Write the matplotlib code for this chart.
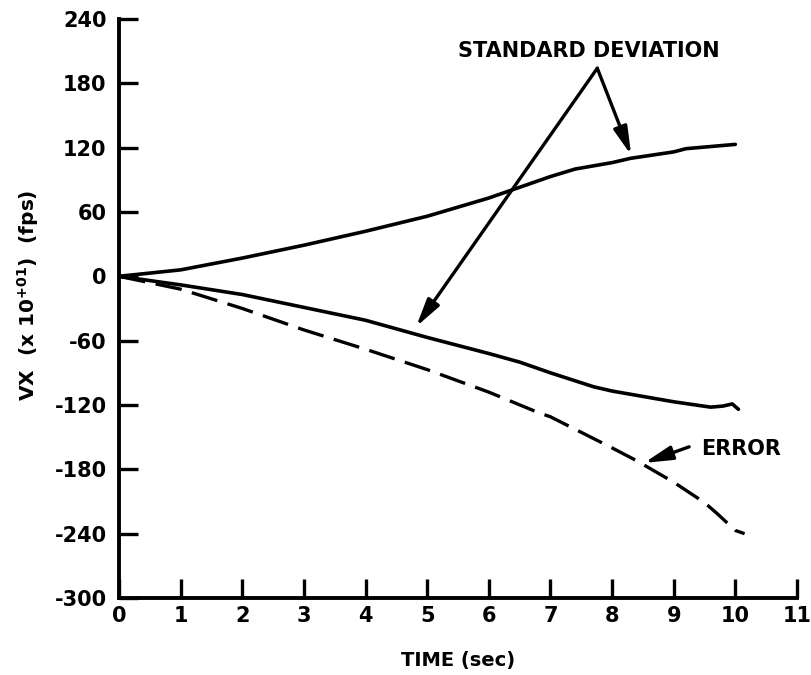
import matplotlib
matplotlib.use("Agg")
import matplotlib.pyplot as plt

plt.rcParams["font.family"] = ["DejaVu Sans"]
plt.rcParams["font.weight"] = "bold"
plt.rcParams["axes.unicode_minus"] = False

# values (VX x 10^+01 fps vs time in sec)
t_std_up = [0, 1, 2, 3, 4, 5, 6, 6.4, 7, 7.4, 8, 8.3, 9, 9.2, 9.6, 10.0]
std_up = [0, 6, 17, 29, 42, 56, 73, 81, 93, 100, 106, 110, 116, 119, 121, 123]

t_std_lo = [0, 1, 2, 3, 4, 5, 6, 6.5, 7, 7.7, 8, 8.7, 9, 9.6, 9.8, 9.95, 10.05]
std_lo = [0, -8, -17, -29, -41, -57, -72, -80, -90, -103, -107, -114, -117, -122, -121, -119, -124]

t_err = [0, 1, 2, 3, 4, 5, 6, 6.8, 7, 8, 8.4, 9, 9.5, 9.7, 9.85, 10.0, 10.15]
err = [0, -12, -30, -50, -68, -87, -108, -127, -131, -160, -172, -192, -211, -221, -229, -237, -240]

x_ticks = list(range(0, 12))
y_ticks = [-300, -240, -180, -120, -60, 0, 60, 120, 180, 240]

fig = plt.figure(figsize=(8.12, 6.75), dpi=100)
ax = fig.add_axes([0.1466, 0.114, 0.8349, 0.858])

ax.plot(t_std_up, std_up, color="black", lw=2.6, solid_capstyle="round")
ax.plot(t_std_lo, std_lo, color="black", lw=2.6, solid_capstyle="round")
ax.plot(t_err, err, color="black", lw=2.4, dashes=(8, 3.2))

ax.set_xlim(0, 11)
ax.set_ylim(-300, 240)
ax.set_xticks(x_ticks)
ax.set_yticks(y_ticks)
ax.tick_params(direction="in", length=14, width=2.4, labelsize=15, pad=6)
ax.tick_params(axis="y", pad=9)
for lab in ax.get_xticklabels() + ax.get_yticklabels():
    lab.set_fontweight("bold")

for side in ("top", "right"):
    ax.spines[side].set_visible(False)
for side in ("left", "bottom"):
    ax.spines[side].set_linewidth(2.8)

ax.set_xlabel("TIME (sec)", fontsize=14, fontweight="bold", labelpad=18)
ax.set_ylabel(r"VX  (x 10$^{\mathbf{+01}}$)  (fps)", fontsize=14.5, fontweight="bold")
ax.yaxis.set_label_coords(-0.115, 0.523)

arrow = dict(arrowstyle="-|>,head_length=1.2,head_width=0.3", color="black", lw=2.4,
             mutation_scale=14, shrinkA=0, shrinkB=0)
ax.text(7.62, 210, "STANDARD DEVIATION", fontsize=15, fontweight="bold", ha="center", va="center")
ax.annotate("", xy=(8.31, 113), xytext=(7.76, 194), arrowprops=arrow)
ax.annotate("", xy=(4.82, -47), xytext=(7.76, 194), arrowprops=arrow)

ax.text(9.45, -161, "ERROR", fontsize=15, fontweight="bold", ha="left", va="center")
ax.annotate("", xy=(8.52, -174), xytext=(9.25, -159), arrowprops=arrow)

fig.savefig("out.png", dpi=100, facecolor="white")
